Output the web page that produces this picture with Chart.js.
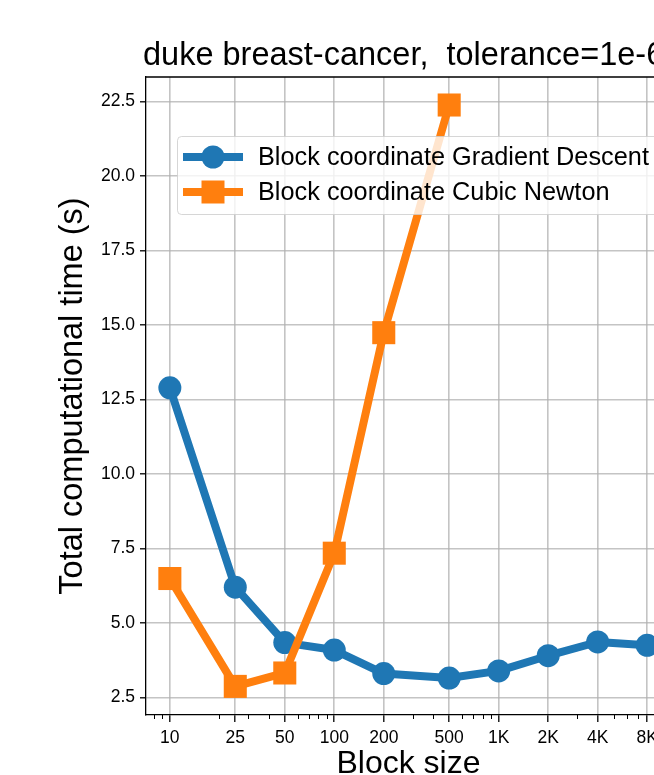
<!DOCTYPE html>
<html>
<head>
<meta charset="utf-8">
<script src="https://cdn.jsdelivr.net/npm/chart.js@4/dist/chart.umd.min.js"></script>
<style>
  html, body { margin: 0; padding: 0; background: #fff; overflow: hidden; width: 654px; height: 775px; }
  canvas { display: block; }
</style>
</head>
<body>
<canvas id="c" width="720" height="790" style="width:720px;height:790px"></canvas>
<script>
// ---- data ----
const chartTitle = 'duke breast-cancer,  tolerance=1e-6';
const xAxisTitle = 'Block size';
const yAxisTitle = 'Total computational time (s)';
const seriesNames = ['Block coordinate Gradient Descent', 'Block coordinate Cubic Newton'];
const gdBlockSizes = [10, 25, 50, 100, 200, 500, 1000, 2000, 4000, 8000];
const gdTimes = [12.89, 6.20, 4.34, 4.09, 3.30, 3.15, 3.39, 3.90, 4.36, 4.25];
const cnBlockSizes = [10, 25, 50, 100, 200, 500];
const cnTimes = [6.49, 2.87, 3.32, 7.34, 14.74, 22.38];
const xTickValues = [10, 25, 50, 100, 200, 500, 1000, 2000, 4000, 8000];
const xTickLabels = ['10', '25', '50', '100', '200', '500', '1K', '2K', '4K', '8K'];
const xMinorTickValues = [7, 8, 9, 20, 30, 40, 60, 70, 80, 90, 300, 400, 600, 700, 800, 900, 3000, 5000, 6000, 7000, 9000];
const yTickValues = [2.5, 5.0, 7.5, 10.0, 12.5, 15.0, 17.5, 20.0, 22.5];

const BLUE = '#1f77b4';
const ORANGE = '#ff7f0e';
const FONT = '"Liberation Sans", Arial, Helvetica, sans-serif';

const toPoints = (xs, ys) => xs.map((x, i) => ({ x: x, y: ys[i] }));

const extrasPlugin = {
  id: 'extras',
  afterDraw(chart) {
    const ctx = chart.ctx;
    const a = chart.chartArea;
    const xs = chart.scales.x;
    ctx.save();
    // minor x ticks
    ctx.strokeStyle = '#000';
    ctx.lineWidth = 1;
    xMinorTickValues.forEach(v => {
      const px = Math.round(xs.getPixelForValue(v)) + 0.5;
      if (px < a.left || px > a.right) return;
      ctx.beginPath();
      ctx.moveTo(px, a.bottom);
      ctx.lineTo(px, a.bottom + 4);
      ctx.stroke();
    });
    // top & right spines
    ctx.lineWidth = 1.3;
    ctx.beginPath();
    ctx.moveTo(a.left, a.top);
    ctx.lineTo(a.right, a.top);
    ctx.lineTo(a.right, a.bottom);
    ctx.stroke();
    // title
    ctx.fillStyle = '#000';
    ctx.font = '32.5px ' + FONT;
    ctx.textAlign = 'left';
    ctx.textBaseline = 'alphabetic';
    ctx.fillText(chartTitle, 143, 65);
    // legend
    const lx = 177, ly = 136, lw = 500, lh = 78;
    ctx.beginPath();
    if (ctx.roundRect) ctx.roundRect(lx + 0.5, ly + 0.5, lw, lh, 4); else ctx.rect(lx + 0.5, ly + 0.5, lw, lh);
    ctx.fillStyle = 'rgba(255,255,255,0.8)';
    ctx.fill();
    ctx.strokeStyle = 'rgba(204,204,204,0.8)';
    ctx.lineWidth = 1;
    ctx.stroke();
    const rows = [
      { y: 157, color: BLUE, shape: 'circle', text: seriesNames[0] },
      { y: 192, color: ORANGE, shape: 'square', text: seriesNames[1] }
    ];
    rows.forEach(r => {
      ctx.strokeStyle = r.color;
      ctx.lineWidth = 8;
      ctx.lineCap = 'butt';
      ctx.beginPath();
      ctx.moveTo(183, r.y);
      ctx.lineTo(243, r.y);
      ctx.stroke();
      ctx.fillStyle = r.color;
      ctx.beginPath();
      if (r.shape === 'circle') ctx.arc(213, r.y, 11.5, 0, Math.PI * 2);
      else ctx.rect(213 - 11.5, r.y - 11.5, 23, 23);
      ctx.fill();
      ctx.fillStyle = '#000';
      ctx.font = '25.3px ' + FONT;
      ctx.textBaseline = 'middle';
      ctx.fillText(r.text, 258, r.y + 1);
    });
    ctx.restore();
  }
};

new Chart(document.getElementById('c'), {
  type: 'line',
  data: {
    datasets: [
      {
        label: seriesNames[0],
        data: toPoints(gdBlockSizes, gdTimes),
        borderColor: BLUE,
        backgroundColor: BLUE,
        borderWidth: 8,
        pointStyle: 'circle',
        pointRadius: 11.5,
        pointBorderWidth: 0,
        pointBackgroundColor: BLUE,
        borderJoinStyle: 'round',
        order: 1,
        tension: 0
      },
      {
        label: seriesNames[1],
        data: toPoints(cnBlockSizes, cnTimes),
        borderColor: ORANGE,
        backgroundColor: ORANGE,
        borderWidth: 8,
        pointStyle: 'rect',
        pointRadius: 16.3,
        pointBorderWidth: 0,
        pointBackgroundColor: ORANGE,
        borderJoinStyle: 'round',
        order: 0,
        tension: 0
      }
    ]
  },
  options: {
    responsive: false,
    animation: false,
    devicePixelRatio: 1,
    layout: { padding: { top: 77, right: 49, left: 0, bottom: 0 } },
    plugins: { legend: { display: false }, tooltip: { enabled: false }, title: { display: false } },
    scales: {
      x: {
        type: 'logarithmic',
        min: 7.16,
        max: 11170,
        afterFit(s) { s.height = 790 - 715; },
        afterBuildTicks(s) { s.ticks = xTickValues.map(v => ({ value: v })); },
        ticks: {
          autoSkip: false,
          maxRotation: 0,
          color: '#000',
          font: { family: FONT, size: 17.5 },
          padding: 6,
          callback: (v, i) => xTickLabels[i]
        },
        grid: { color: 'rgba(176,176,176,0.75)', lineWidth: 1.6, tickLength: 7, tickColor: '#000', tickWidth: 1.3 },
        border: { color: '#000', width: 1.3 },
        title: { display: true, text: xAxisTitle, color: '#000', font: { family: FONT, size: 32, lineHeight: 1 }, padding: { top: 0, bottom: 9.5 } }
      },
      y: {
        type: 'linear',
        min: 1.91,
        max: 23.32,
        afterFit(s) { s.width = 146; },
        afterBuildTicks(s) { s.ticks = yTickValues.map(v => ({ value: v })); },
        ticks: {
          color: '#000',
          font: { family: FONT, size: 17.5 },
          padding: 5,
          callback: v => Number(v).toFixed(1)
        },
        grid: { color: 'rgba(176,176,176,0.75)', lineWidth: 1.6, tickLength: 6, tickColor: '#000', tickWidth: 1.3 },
        border: { color: '#000', width: 1.3 },
        title: { display: true, text: yAxisTitle, color: '#000', font: { family: FONT, size: 32.5, lineHeight: 1 }, padding: { top: 57, bottom: 0 } }
      }
    }
  },
  plugins: [extrasPlugin]
});
</script>
</body>
</html>
